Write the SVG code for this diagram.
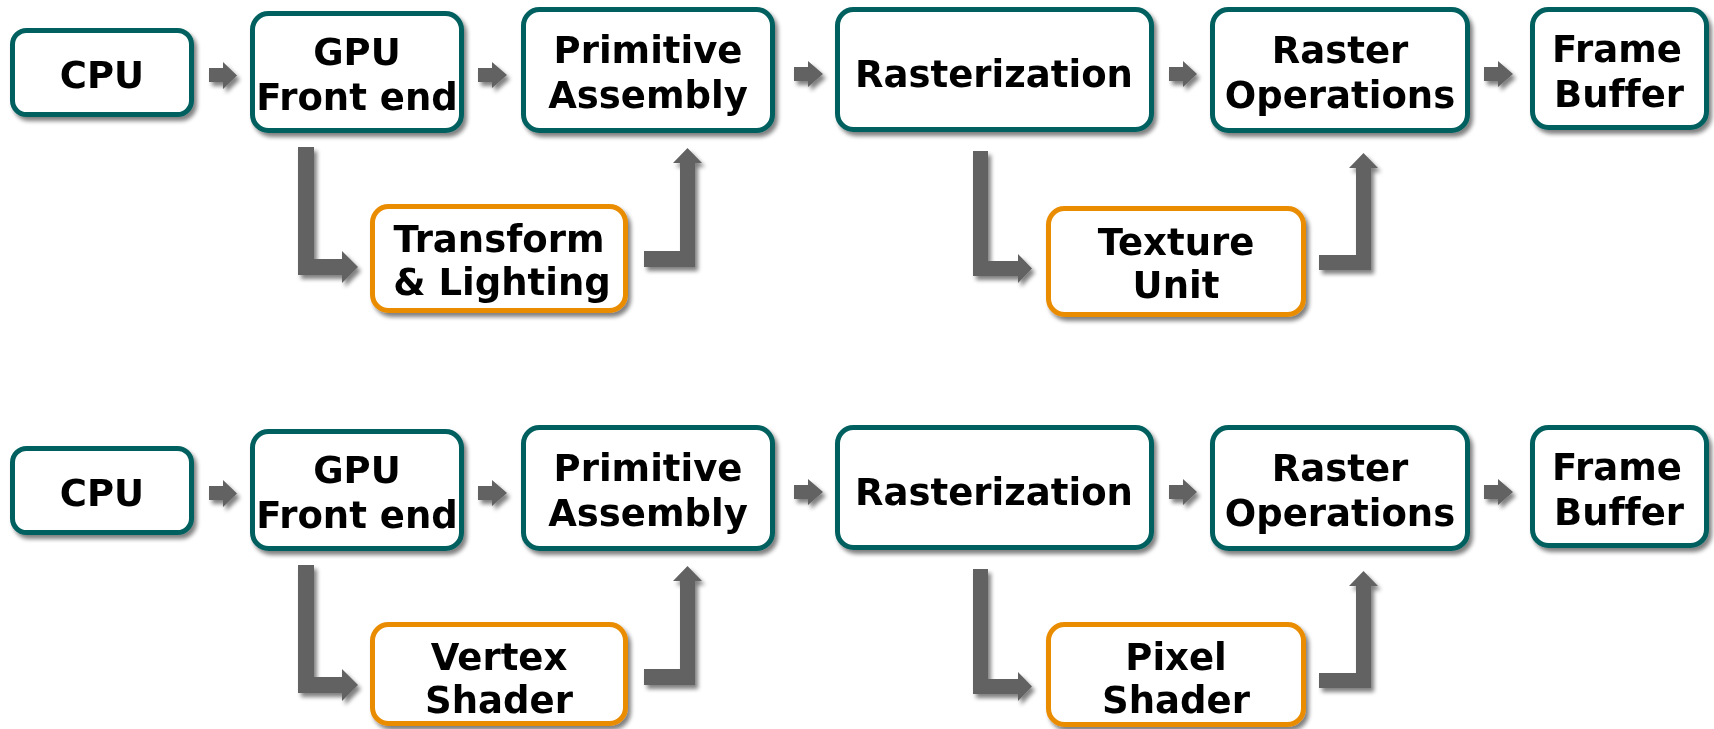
<svg xmlns="http://www.w3.org/2000/svg" width="1714" height="729" viewBox="0 0 1714 729">
  <defs>
    <style>
      .box { fill: #ffffff; stroke-width: 5; }
      .fixed { stroke: #03605f; }
      .prog { stroke: #ea8c00; }
      .arrow { fill: #626262; }
      .label { font-family: "DejaVu Sans", "Liberation Sans", sans-serif; font-weight: bold; font-size: 37px; fill: #000000; text-anchor: middle; font-variant-ligatures: none; }
    </style>
    <!-- soft drop shadow used by boxes, arrows and labels -->
    <filter id="shadow" x="-20%" y="-20%" width="150%" height="160%">
      <feGaussianBlur in="SourceAlpha" stdDeviation="2.2"/>
      <feOffset dx="3" dy="4" result="off"/>
      <feComponentTransfer>
        <feFuncA type="linear" slope="0.5"/>
      </feComponentTransfer>
      <feMerge>
        <feMergeNode/>
        <feMergeNode in="SourceGraphic"/>
      </feMerge>
    </filter>
  </defs>

  <rect x="0" y="0" width="1714" height="729" fill="#ffffff"/>

  <!-- ===== fixed-function pipeline (top) ===== -->
  <g id="cpu-1" filter="url(#shadow)">
    <rect class="box fixed" x="12.5" y="30.5" width="179" height="84" rx="14"/>
    <text class="label" x="102" y="88">CPU</text>
  </g>
  <g id="gpu-front-end-1" filter="url(#shadow)">
    <rect class="box fixed" x="252.5" y="13.5" width="209" height="117" rx="16"/>
    <text class="label" x="357" y="65">GPU</text>
    <text class="label" x="357" y="110">Front end</text>
  </g>
  <g id="primitive-assembly-1" filter="url(#shadow)">
    <rect class="box fixed" x="523.5" y="9.5" width="249" height="121" rx="16"/>
    <text class="label" x="648" y="63">Primitive</text>
    <text class="label" x="648" y="108">Assembly</text>
  </g>
  <g id="rasterization-1" filter="url(#shadow)">
    <rect class="box fixed" x="837.5" y="9.5" width="314" height="120" rx="16"/>
    <text class="label" x="994" y="87">Rasterization</text>
  </g>
  <g id="raster-operations-1" filter="url(#shadow)">
    <rect class="box fixed" x="1212.5" y="9.5" width="255" height="121" rx="16"/>
    <text class="label" x="1340" y="63">Raster</text>
    <text class="label" x="1340" y="108">Operations</text>
  </g>
  <g id="frame-buffer-1" filter="url(#shadow)">
    <rect class="box fixed" x="1532.5" y="9.5" width="174" height="118" rx="16"/>
    <text class="label" x="1617" y="62">Frame</text>
    <text class="label" x="1619" y="107">Buffer</text>
  </g>
  <g id="transform-lighting" filter="url(#shadow)">
    <rect class="box prog" x="372.5" y="206.5" width="253" height="104" rx="16"/>
    <text class="label" x="499" y="252">Transform</text>
    <text class="label" x="502" y="295">&amp; Lighting</text>
  </g>
  <g id="texture-unit" filter="url(#shadow)">
    <rect class="box prog" x="1048.5" y="208.5" width="255" height="106" rx="16"/>
    <text class="label" x="1176" y="255">Texture</text>
    <text class="label" x="1176" y="298">Unit</text>
  </g>

  <!-- ===== programmable pipeline (bottom) ===== -->
  <g id="cpu-2" filter="url(#shadow)">
    <rect class="box fixed" x="12.5" y="448.5" width="179" height="84" rx="14"/>
    <text class="label" x="102" y="506">CPU</text>
  </g>
  <g id="gpu-front-end-2" filter="url(#shadow)">
    <rect class="box fixed" x="252.5" y="431.5" width="209" height="117" rx="16"/>
    <text class="label" x="357" y="483">GPU</text>
    <text class="label" x="357" y="528">Front end</text>
  </g>
  <g id="primitive-assembly-2" filter="url(#shadow)">
    <rect class="box fixed" x="523.5" y="427.5" width="249" height="121" rx="16"/>
    <text class="label" x="648" y="481">Primitive</text>
    <text class="label" x="648" y="526">Assembly</text>
  </g>
  <g id="rasterization-2" filter="url(#shadow)">
    <rect class="box fixed" x="837.5" y="427.5" width="314" height="120" rx="16"/>
    <text class="label" x="994" y="505">Rasterization</text>
  </g>
  <g id="raster-operations-2" filter="url(#shadow)">
    <rect class="box fixed" x="1212.5" y="427.5" width="255" height="121" rx="16"/>
    <text class="label" x="1340" y="481">Raster</text>
    <text class="label" x="1340" y="526">Operations</text>
  </g>
  <g id="frame-buffer-2" filter="url(#shadow)">
    <rect class="box fixed" x="1532.5" y="427.5" width="174" height="118" rx="16"/>
    <text class="label" x="1617" y="480">Frame</text>
    <text class="label" x="1619" y="525">Buffer</text>
  </g>
  <g id="vertex-shader" filter="url(#shadow)">
    <rect class="box prog" x="372.5" y="624.5" width="253" height="99" rx="16"/>
    <text class="label" x="499" y="670">Vertex</text>
    <text class="label" x="499" y="713">Shader</text>
  </g>
  <g id="pixel-shader" filter="url(#shadow)">
    <rect class="box prog" x="1048.5" y="624.5" width="255" height="100" rx="16"/>
    <text class="label" x="1176" y="670">Pixel</text>
    <text class="label" x="1176" y="713">Shader</text>
  </g>

  <!-- ===== connectors ===== -->
  <g id="connectors" class="arrow" filter="url(#shadow)">
    <!-- top row: straight arrows -->
    <path d="M209 68 H223 V62 L237 75.5 L223 89 V82 H209 Z"/>
    <path d="M478 68 H492 V62 L507 75 L492 88 V82 H478 Z"/>
    <path d="M794 67 H808 V61 L823 74 L808 87 V81 H794 Z"/>
    <path d="M1169 67 H1183 V61 L1197 74 L1183 87 V81 H1169 Z"/>
    <path d="M1484 67 H1498 V61 L1513 74 L1498 87 V81 H1484 Z"/>
    <!-- top row: detours through the side units -->
    <path d="M298 147 H314 V259 H342 V251 L358 267 L342 283 V275 H298 Z"/>
    <path d="M644 251 H680 V163 H673 L687.5 148 L702 163 H695 V267 H644 Z"/>
    <path d="M973 151 H988 V261 H1018 V254 L1032 268.5 L1018 283 V276 H973 Z"/>
    <path d="M1319 255 H1356 V168 H1349 L1363.5 153 L1378 168 H1371 V270 H1319 Z"/>

    <!-- bottom row: straight arrows -->
    <path d="M209 486 H223 V480 L237 493.5 L223 507 V500 H209 Z"/>
    <path d="M478 486 H492 V480 L507 493 L492 506 V500 H478 Z"/>
    <path d="M794 485 H808 V479 L823 492 L808 505 V499 H794 Z"/>
    <path d="M1169 485 H1183 V479 L1197 492 L1183 505 V499 H1169 Z"/>
    <path d="M1484 485 H1498 V479 L1513 492 L1498 505 V499 H1484 Z"/>
    <!-- bottom row: detours through the shaders -->
    <path d="M298 565 H314 V677 H342 V669 L358 685 L342 701 V693 H298 Z"/>
    <path d="M644 669 H680 V581 H673 L687.5 566 L702 581 H695 V685 H644 Z"/>
    <path d="M973 569 H988 V679 H1018 V672 L1032 686.5 L1018 701 V694 H973 Z"/>
    <path d="M1319 673 H1356 V586 H1349 L1363.5 571 L1378 586 H1371 V688 H1319 Z"/>
  </g>
</svg>
